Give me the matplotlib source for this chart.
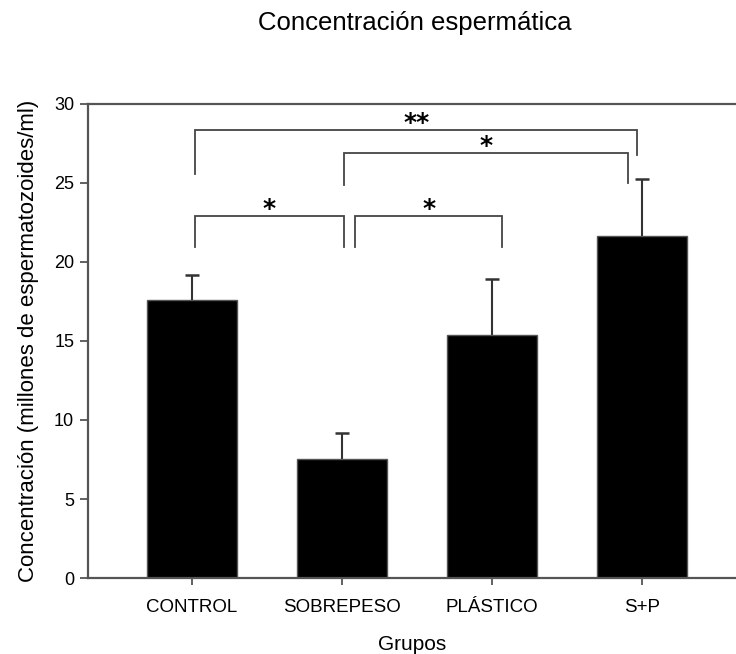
import matplotlib
matplotlib.use("Agg")
import matplotlib.pyplot as plt
import numpy as np

plt.rcParams["font.family"] = ["Liberation Sans", "DejaVu Sans"]

groups = ["CONTROL", "SOBREPESO", "PLÁSTICO", "S+P"]
means = [17.6, 7.55, 15.4, 21.65]
errors = [1.6, 1.65, 3.5, 3.6]

# significance brackets: (left x, right x, bracket y, left leg end, right leg end, label)
brackets = [
    (0.02, 2.97, 28.35, 25.6, 26.8, "**"),
    (1.013, 2.91, 26.9, 24.9, 25.0, "*"),
    (0.02, 1.013, 22.9, 20.95, 20.95, "*"),
    (1.087, 2.07, 22.9, 20.95, 20.95, "*"),
]

spine_c = "#555555"

fig = plt.figure(figsize=(7.36, 6.54), dpi=100)
ax = fig.add_axes([0.1196, 0.1162, 1 - 0.1196, 0.7248])

x = np.arange(len(groups))
tops = np.array(means) + np.array(errors)
ax.bar(x, means, width=0.6, color="black", edgecolor=spine_c, linewidth=1, zorder=2)
ax.vlines(x, means, tops, color="#333333", lw=1.5, zorder=1)
ax.scatter(x, tops, marker="_", s=100, color="#333333", linewidths=1.8, zorder=1)

for x0, x1, y, l0, l1, lab in brackets:
    ax.plot([x0, x0, x1, x1], [l0, y, y, l1], color="#444444", lw=1.3,
            solid_joinstyle="miter", clip_on=False)
    ax.text((x0 + x1) / 2, y + 0.45, lab, ha="center", va="center",
            fontsize=18, fontweight="bold", family="DejaVu Sans")

ax.set_xlim(-0.693, 3.627)
ax.set_ylim(0, 30)
ax.set_xticks(x)
ax.set_xticklabels(groups, fontsize=13.5)
ax.set_yticks(np.arange(0, 31, 5))
ax.tick_params(axis="y", labelsize=13, length=6, width=1.3, color=spine_c, pad=4)
ax.tick_params(axis="x", length=5, width=1.3, color=spine_c, pad=10)

ax.spines["right"].set_visible(False)
for s in ["left", "bottom", "top"]:
    ax.spines[s].set_color(spine_c)
    ax.spines[s].set_linewidth(1.6)

ax.set_xlabel("Grupos", fontsize=15, labelpad=14)
ax.set_ylabel("Concentración (millones de espermatozoides/ml)", fontsize=16, labelpad=11)
fig.text(0.564, 0.965, "Concentración espermática", ha="center", va="center", fontsize=18.5)

fig.savefig("out.png", dpi=100)
